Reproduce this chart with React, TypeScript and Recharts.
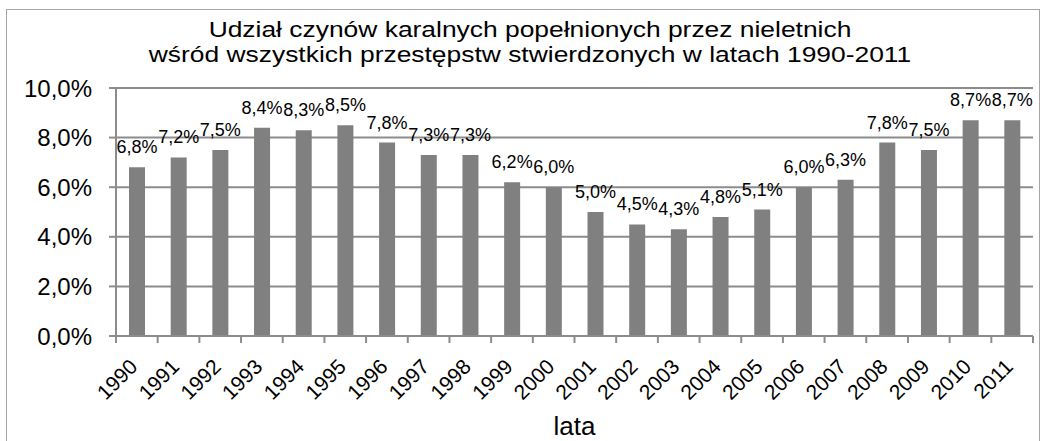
import React from 'react';
import { BarChart, Bar, XAxis, YAxis, CartesianGrid, LabelList, Label } from 'recharts';

const years = [
  '1990', '1991', '1992', '1993', '1994', '1995', '1996', '1997', '1998', '1999', '2000',
  '2001', '2002', '2003', '2004', '2005', '2006', '2007', '2008', '2009', '2010', '2011',
];
const shares = [
  6.8, 7.2, 7.5, 8.4, 8.3, 8.5, 7.8, 7.3, 7.3, 6.2, 6.0,
  5.0, 4.5, 4.3, 4.8, 5.1, 6.0, 6.3, 7.8, 7.5, 8.7, 8.7,
];
const yTicks = [0, 2, 4, 6, 8, 10];

const titleLines = [
  'Udział czynów karalnych popełnionych przez nieletnich',
  'wśród wszystkich przestępstw stwierdzonych w latach 1990-2011',
];

const data = years.map((y, i) => ({ year: y, value: shares[i] }));

const GRID = '#8c8c8c';
const FONT = '"Liberation Sans", Arial, sans-serif';

function pct(v: number): string {
  return v.toFixed(1).replace('.', ',') + '%';
}

// tick marks sit on the category boundaries, labels rotated under the centre
// eslint-disable-next-line @typescript-eslint/no-explicit-any
function YearTick(props: any) {
  const { x, y, payload, index } = props;
  const half = payload?.offset ?? 20.8;
  const axisY = y - 9;
  const last = index === years.length - 1;
  const tx = x + 2;
  const ty = y + 23;
  return (
    <g>
      <line x1={x - half} y1={axisY} x2={x - half} y2={axisY + 7} stroke={GRID} strokeWidth={2} />
      {last && <line x1={x + half} y1={axisY} x2={x + half} y2={axisY + 7} stroke={GRID} strokeWidth={2} />}
      <text
        x={tx}
        y={ty}
        textAnchor="end"
        fontSize={21}
        fontFamily={FONT}
        fill="#000"
        transform={`rotate(-45 ${tx} ${ty})`}
      >
        {payload.value}
      </text>
    </g>
  );
}

export default function App() {
  return (
    <div style={{ position: 'absolute', left: 0, top: 0, width: 1046, height: 441, background: '#fff', overflow: 'hidden' }}>
      <div
        style={{
          position: 'absolute',
          left: 6,
          top: 9,
          width: 1032,
          height: 460,
          border: '1px solid #a6a6a6',
        }}
      />
      <div
        style={{
          position: 'absolute',
          left: 0,
          top: 17,
          width: 1060,
          textAlign: 'center',
          fontFamily: FONT,
          fontSize: 22,
          lineHeight: '25px',
          color: '#000',
          transform: 'scaleX(1.2)',
          transformOrigin: '530px 0',
        }}
      >
        {titleLines.map((t) => (
          <div key={t}>{t}</div>
        ))}
      </div>
      <div style={{ position: 'absolute', left: 0, top: 0 }}>
        <BarChart width={1046} height={441} data={data} margin={{ top: 88, right: 13, bottom: 0, left: 0 }} barSize={16}>
          <CartesianGrid vertical={false} stroke={GRID} strokeWidth={2} />
          <XAxis
            dataKey="year"
            height={105}
            interval={0}
            axisLine={{ stroke: GRID, strokeWidth: 2 }}
            tickLine={false}
            tickSize={7}
            tickMargin={2}
            tick={<YearTick />}
          >
            <Label value="lata" position="insideBottom" offset={6} fontSize={26} fontFamily={FONT} fill="#000" />
          </XAxis>
          <YAxis
            width={116}
            domain={[0, 10]}
            ticks={yTicks}
            tickFormatter={pct}
            axisLine={{ stroke: GRID, strokeWidth: 2 }}
            tickLine={{ stroke: GRID, strokeWidth: 2 }}
            tickSize={7}
            tickMargin={17}
            tick={{ fontSize: 24, fontFamily: FONT, fill: '#000' }}
          />
          <Bar dataKey="value" fill="#808080" isAnimationActive={false}>
            <LabelList
              dataKey="value"
              position="top"
              offset={14}
              formatter={(v: number) => pct(v)}
              style={{ fontSize: 18, fontFamily: FONT, fill: '#000' }}
            />
          </Bar>
        </BarChart>
      </div>
    </div>
  );
}
